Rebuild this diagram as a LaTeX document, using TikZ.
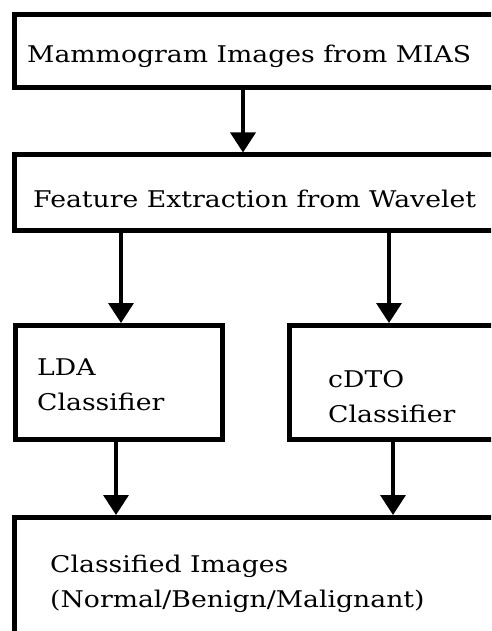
\documentclass[tikz,border=0pt]{standalone}
\usepackage{fontspec}
\setmainfont[FakeStretch=1.16]{DejaVu Serif}
\usetikzlibrary{arrows.meta}
\begin{document}
\begin{tikzpicture}[x=1pt,y=-1pt,
  box/.style={draw=black, line width=5pt, inner sep=0pt, fill=white},
  txt/.style={anchor=base west, inner sep=0pt, align=left, font=\fontsize{23}{35}\selectfont},
  arr/.style={draw=black, line width=3.5pt, -{Triangle[width=25pt,length=20pt]}}]
\useasboundingbox (0,0) rectangle (491,631);
\fill[white] (0,0) rectangle (491,631);
\begin{scope}
\clip (0,0) rectangle (491,631);
\node[box, minimum width=546pt, minimum height=73.5pt] (b1) at (287,51.25) {};
\node[box, minimum width=546pt, minimum height=75pt] (b2) at (287,192.5) {};
\node[box, minimum width=207pt, minimum height=114pt] (lda) at (119,382.5) {};
\node[box, minimum width=270.5pt, minimum height=114pt] (cdto) at (424.75,382.5) {};
\node[box, minimum width=546pt, minimum height=182.5pt] (out) at (287,608.75) {};
\coordinate (x1) at (243,0);
\coordinate (x2) at (121,0);
\coordinate (x3) at (389,0);
\coordinate (x4) at (116,0);
\coordinate (x5) at (393,0);
\draw[arr] (x1 |- b1.south) -- (x1 |- b2.north);
\draw[arr] (x2 |- b2.south) -- (x2 |- lda.north);
\draw[arr] (x3 |- b2.south) -- (x3 |- cdto.north);
\draw[arr] (x4 |- lda.south) -- (x4 |- out.north);
\draw[arr] (x5 |- cdto.south) -- (x5 |- out.north);
\node[txt] (t1) at (27,63) {Mammogram Images from MIAS};
\node[txt] (t2) at (33,207) {Feature Extraction from Wavelet};
\node[txt] (t3) at (37,410) {LDA\\Classifier};
\node[txt] (t4) at (328,422) {cDTO\\Classifier};
\node[txt] (t5) at (50,607) {Classified Images\\(Normal/Benign/Malignant)};
\end{scope}
\end{tikzpicture}
\end{document}
